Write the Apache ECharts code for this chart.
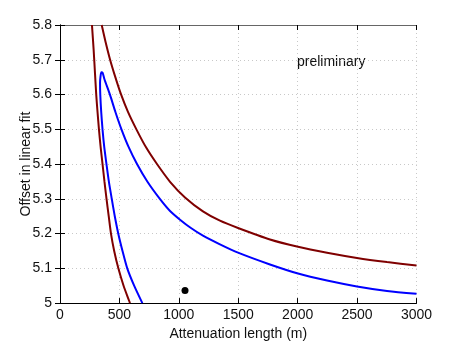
<!DOCTYPE html>
<html>
<head>
<meta charset="utf-8">
<script src="https://cdn.jsdelivr.net/npm/echarts@6/dist/echarts.min.js"></script>
<style>
  html, body { margin: 0; padding: 0; background: #fff; }
  #main { width: 460px; height: 346px; }
</style>
</head>
<body>
<div id="main"></div>
<script>
// contour data: [attenuation length (m), offset]
var redLeft = [[269, 5.8], [283, 5.729], [295, 5.658], [305, 5.599], [316, 5.549],
  [328, 5.499], [342, 5.449], [358, 5.4], [374, 5.35], [391, 5.301], [410, 5.25],
  [429, 5.2], [456, 5.15], [491, 5.1], [535, 5.05], [589, 5.0]];
var redRight = [[351, 5.8], [383, 5.752], [421, 5.701], [463, 5.653], [513, 5.601],
  [572, 5.55], [644, 5.499], [724, 5.448], [816, 5.4], [926, 5.349], [1052, 5.304],
  [1203, 5.264], [1346, 5.237], [1498, 5.216], [1767, 5.183], [2003, 5.162],
  [2247, 5.145], [2499, 5.13], [2752, 5.118], [3000, 5.108]];
var blueCurve = [[693, 5.0], [623, 5.051], [566, 5.1], [526, 5.15], [491, 5.199],
  [461, 5.25], [435, 5.301], [411, 5.35], [391, 5.4], [372, 5.45], [358, 5.499],
  [347, 5.549], [339, 5.599], [337, 5.633], [341, 5.652], [348, 5.664], [358, 5.663],
  [374, 5.644], [421, 5.599], [467, 5.549], [518, 5.499], [576, 5.45], [648, 5.4],
  [736, 5.349], [842, 5.299], [926, 5.265], [1010, 5.24], [1102, 5.216], [1203, 5.194],
  [1346, 5.169], [1498, 5.145], [1767, 5.111], [2003, 5.085], [2247, 5.065],
  [2499, 5.048], [2752, 5.035], [3000, 5.027]];
var bestFit = [[1052, 5.036]];

var xMin = 0, xMax = 3000, xStep = 500;
var yMin = 5, yMax = 5.8, yStep = 0.1;

var myChart = echarts.init(document.getElementById('main'));

var font = 'Liberation Sans';
var tickStyle = { show: true, inside: true, length: 5, lineStyle: { color: '#000' } };
var gridStyle = { show: true, lineStyle: { color: '#c8c8c8', type: [1, 3], width: 1 } };

myChart.setOption({
  animation: false,
  grid: { left: 60, right: 43.5, top: 25, bottom: 39 },
  graphic: [{
    type: 'text', left: 297, top: 55,
    style: { text: 'preliminary', font: '14px ' + font, fill: '#111' }
  }],
  xAxis: [
    {
      type: 'value', min: xMin, max: xMax, interval: xStep,
      name: 'Attenuation length (m)', nameLocation: 'middle', nameGap: 19,
      nameTextStyle: { fontFamily: font, fontSize: 14, color: '#111' },
      axisLine: { show: true, lineStyle: { color: '#000' } },
      axisTick: tickStyle,
      axisLabel: { fontFamily: font, fontSize: 14, color: '#111', margin: 5,
        formatter: function (v) { return String(v); } },
      splitLine: gridStyle
    },
    {
      type: 'value', position: 'top', min: xMin, max: xMax, interval: xStep,
      axisLine: { show: true, lineStyle: { color: '#666' } },
      axisTick: tickStyle, axisLabel: { show: false }, splitLine: { show: false }
    }
  ],
  yAxis: [
    {
      type: 'value', min: yMin, max: yMax, interval: yStep,
      name: 'Offset in linear fit', nameLocation: 'middle', nameGap: 27,
      nameMoveOverlap: false,
      nameTextStyle: { fontFamily: font, fontSize: 14, color: '#111' },
      axisLine: { show: true, lineStyle: { color: '#000' } },
      axisTick: tickStyle,
      axisLabel: { fontFamily: font, fontSize: 14, color: '#111', margin: 8,
        formatter: function (v) { return String(Math.round(v * 10) / 10); } },
      splitLine: gridStyle
    },
    {
      type: 'value', position: 'right', min: yMin, max: yMax, interval: yStep,
      axisLine: { show: true, lineStyle: { color: '#000' } },
      axisTick: tickStyle, axisLabel: { show: false }, splitLine: { show: false }
    }
  ],
  series: [
    {
      type: 'line', data: redLeft, smooth: 0.25, showSymbol: false,
      lineStyle: { color: '#7f0000', width: 2 }
    },
    {
      type: 'line', data: redRight, smooth: 0.25, showSymbol: false,
      lineStyle: { color: '#7f0000', width: 2 }
    },
    {
      type: 'line', data: blueCurve, smooth: 0.25, showSymbol: false,
      lineStyle: { color: '#0000ff', width: 2 }
    },
    {
      type: 'scatter', data: bestFit, symbolSize: 7,
      itemStyle: { color: '#000', opacity: 1 }
    }
  ]
});
</script>
</body>
</html>
